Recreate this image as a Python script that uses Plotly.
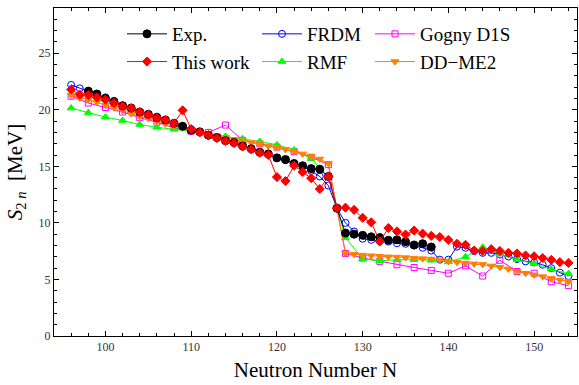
import plotly.graph_objects as go

# ---------------- data ----------------
N_exp = list(range(98, 139))
S_exp = [21.65, 21.4, 21.0, 20.7, 20.35, 20.15, 19.8, 19.6, 19.3, 19.1,
         18.8, 18.55, 18.2, 18.05, 17.75, 17.55, 17.27, 17.1, 16.8, 16.55,
         16.25, 16.1, 15.75, 15.6, 15.25, 15.05, 14.8, 14.75, 14.1, 11.3,
         9.1, 9.0, 8.9, 8.77, 8.7, 8.47, 8.5, 8.34, 8.05, 8.16, 7.87]

N_all = list(range(96, 155))
S_this = [21.8, 21.35, 21.3, 21.1, 20.9, 20.6, 20.3, 20.15, 19.8, 19.57,
          19.28, 19.1, 18.8, 19.95, 18.3, 18.0, 17.75, 17.5, 17.25, 17.05,
          16.75, 16.5, 16.2, 16.0, 14.05, 13.7, 15.05, 14.5, 13.95, 13.0,
          14.1, 11.3, 11.35, 11.15, 10.45, 10.05, 8.35, 9.55, 9.25, 8.97,
          9.32, 9.05, 8.85, 8.75, 8.5, 8.15, 8.06, 7.56, 7.52, 7.68,
          7.52, 7.35, 7.3, 7.12, 7.05, 6.9, 6.73, 6.53, 6.46]

S_frdm = [22.2, 21.9, 21.65, 21.35, 21.1, 20.8, 20.4, 20.15, 19.8, 19.6,
          19.4, 19.1, 18.8, 18.5, 18.25, 18.05, 17.8, 17.55, 17.3, 17.1,
          16.8, 16.55, 16.25, 16.05, 15.75, 15.55, 15.2, 15.0, 14.6, 14.1,
          13.3, 11.3, 10.0, 9.24, 8.6, 8.5, 8.4, 8.35, 8.2, 8.15,
          8.0, 7.8, 7.55, 6.75, 6.75, 7.9, 7.8, 7.5, 7.35, 7.35,
          7.2, 7.03, 6.8, 6.6, 6.5, 6.3, 6.0, 5.6, 5.3]

S_ddme2 = [21.3, 21.05, 20.9, 20.67, 20.4, 20.17, 19.93, 19.66, 19.42, 19.22,
           18.98, 18.75, 18.54, 18.4, 18.2, 18.0, 17.85, 17.7, 17.55, 17.4,
           17.25, 17.1, 16.95, 16.8, 16.65, 16.5, 16.3, 16.1, 15.9, 15.65,
           15.25, 11.3, 7.3, 7.22, 7.15, 7.1, 7.05, 7.0, 6.98, 6.93,
           6.88, 6.84, 6.8, 6.73, 6.6, 6.52, 6.44, 6.38, 6.33, 6.2,
           6.08, 5.93, 5.72, 5.55, 5.4, 5.25, 5.1, 4.96, 4.82]

N_even = list(range(96, 155, 2))
S_gogny = [21.2, 20.6, 20.2, 19.8, 19.3, 18.9, 18.4, 18.1, 18.0, 18.65,
           17.3, 17.0, 16.7, 16.3, 15.8, 15.15, 7.3, 6.9, 6.6, 6.3,
           6.05, 5.8, 5.55, 6.2, 5.3, 6.7, 5.7, 5.55, 4.8, 4.45]
S_rmf = [20.15, 19.75, 19.35, 19.05, 18.7, 18.45, 18.3, 18.1, 17.85, 17.65,
         17.45, 17.2, 16.9, 16.45, 15.7, 14.0, 8.7, 6.8, 6.65, 6.75,
         6.75, 6.7, 6.55, 7.0, 7.85, 7.25, 6.75, 6.4, 5.9, 5.5]

x_ticks = [100, 110, 120, 130, 140, 150]
y_ticks = [0, 5, 10, 15, 20, 25]

# ---------------- figure ----------------
FONT = "Liberation Serif"
fig = go.Figure()

def add(name, x, y, color, symbol, size, legend, fill=None):
    fig.add_trace(go.Scatter(
        x=x, y=y, name=name, mode="lines+markers",
        line=dict(color=color, width=1),
        marker=dict(symbol=symbol, size=size, color=fill if fill else color,
                    line=dict(color=color, width=1)),
        legend=legend,
    ))

add("FRDM", N_all, S_frdm, "#0000FF", "circle-open", 7, "legend2")
add("Gogny D1S", N_even, S_gogny, "#FF00FF", "square-open", 6, "legend3")
add("RMF", N_even, S_rmf, "#00FF00", "triangle-up", 7, "legend2")
add("DD\u2212ME2", N_all, S_ddme2, "#FF8000", "triangle-down", 7, "legend3")
add("Exp.", N_exp, S_exp, "#000000", "circle", 8, "legend")
add("This work", N_all, S_this, "#FF0000", "diamond", 7, "legend")

leg_common = dict(
    font=dict(family=FONT, size=19, color="black"),
    bgcolor="rgba(0,0,0,0)", orientation="v",
    xanchor="left", yanchor="top", yref="paper", xref="paper",
    itemwidth=40, tracegroupgap=0, traceorder="normal",
)
LEG_Y = (336 - 15) / 328
fig.update_layout(
    legend=dict(x=(122 - 54) / 523, y=LEG_Y, **leg_common),
    legend2=dict(x=(257 - 54) / 523, y=LEG_Y, **leg_common),
    legend3=dict(x=(370 - 54) / 523, y=LEG_Y, **leg_common),
)

axis_common = dict(
    showline=True, linecolor="black", linewidth=1, mirror="ticks",
    ticks="inside", ticklen=5, tickwidth=1, tickcolor="black",
    showgrid=False, zeroline=False,
    tickfont=dict(family=FONT, size=12, color="#333"),
)
fig.update_xaxes(range=[94, 155], tickvals=x_ticks,
                 minor=dict(ticks="inside", ticklen=3, dtick=2, tick0=0, tickcolor="black"),
                 title=dict(text="Neutron Number N", font=dict(family=FONT, size=21, color="black"), standoff=8),
                 **axis_common)
fig.update_yaxes(range=[0, 29], tickvals=y_ticks,
                 minor=dict(ticks="inside", ticklen=3, dtick=1, tick0=0, tickcolor="black"),
                 title=dict(text="<i>S</i><sub>2 <i>n</i></sub>  [MeV]", font=dict(family=FONT, size=21, color="black"), standoff=10),
                 **axis_common)

fig.update_layout(
    width=579, height=385,
    margin=dict(l=54, r=2, t=8, b=49),
    plot_bgcolor="white", paper_bgcolor="white",
    showlegend=True,
    font=dict(family=FONT),
)

fig.write_html("out.html")
